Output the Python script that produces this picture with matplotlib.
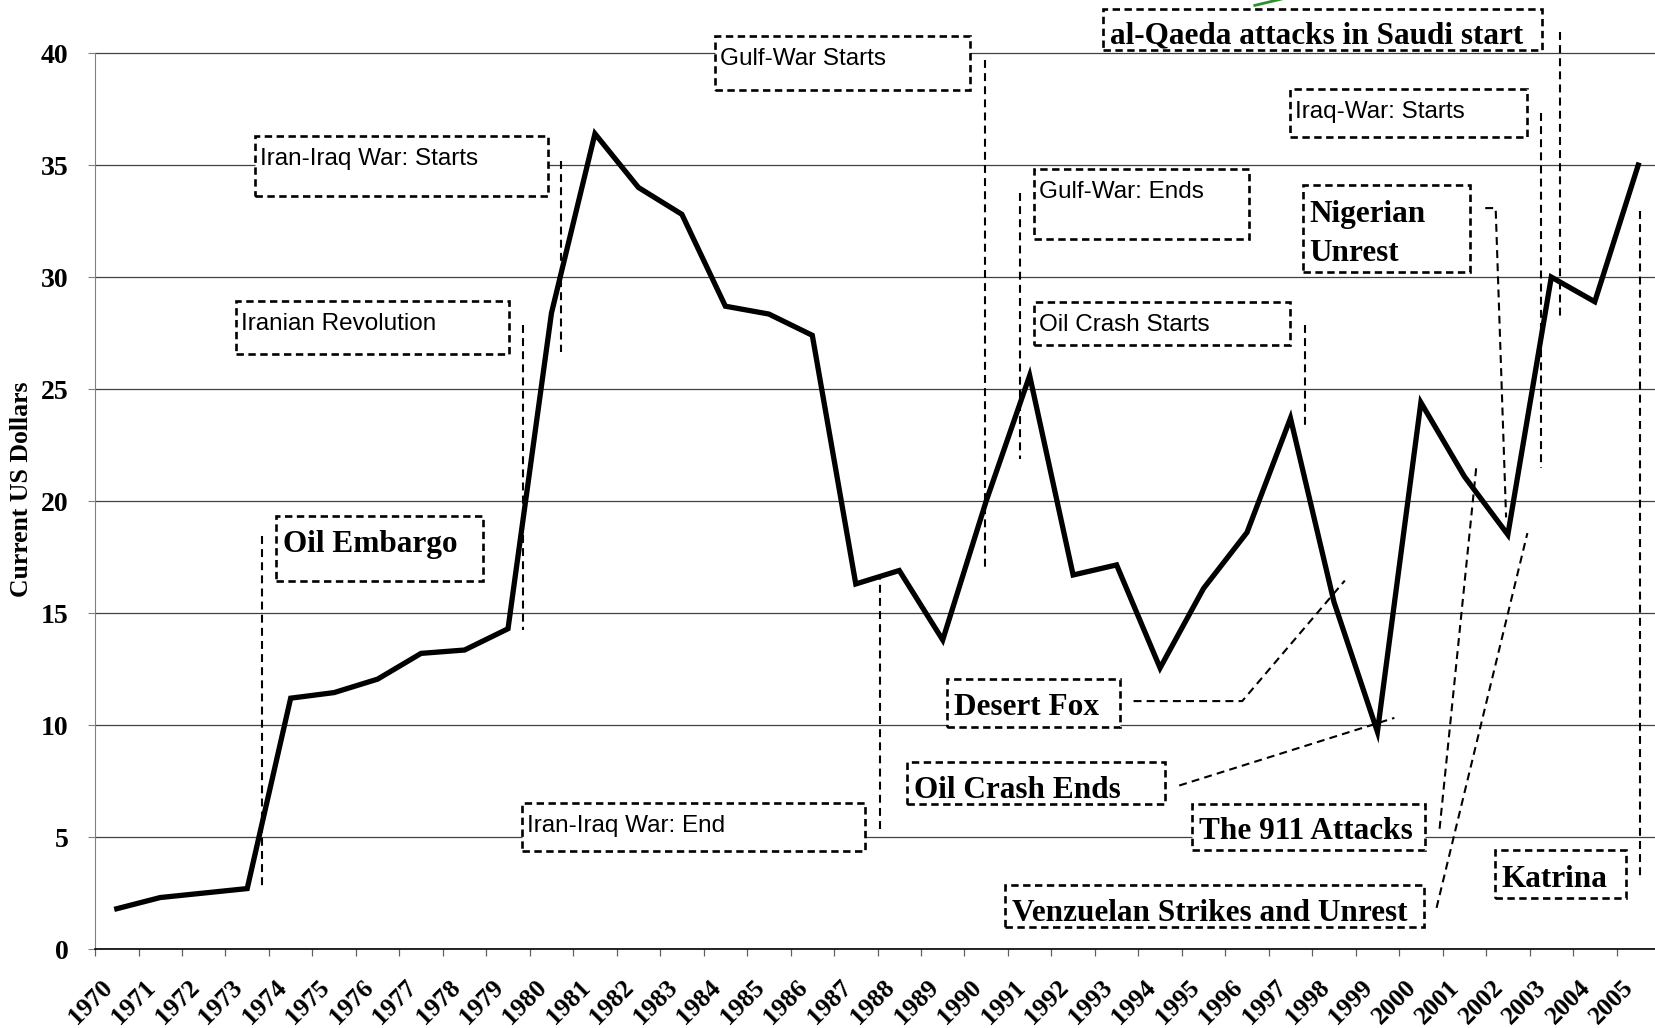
import matplotlib
matplotlib.use('Agg')
import matplotlib.pyplot as plt
from matplotlib.patches import Rectangle
from matplotlib.transforms import ScaledTranslation

# Oil price, current US dollars per barrel
years = list(range(1970, 2006))
prices = [1.8, 2.3, 2.5, 2.7, 11.2, 11.45, 12.05, 13.2, 13.35, 14.3,
          28.4, 36.4, 34.0, 32.8, 28.7, 28.35, 27.4, 16.3, 16.9, 13.8,
          20.0, 25.6, 16.7, 17.15, 12.55, 16.1, 18.6, 23.7, 15.5, 9.7,
          24.4, 21.1, 18.5, 30.0, 28.9, 35.0]

# event labels: text, box (x0, y0, x1, y1) in (year index, dollars), leader line
sans_events = [
    ("Iran-Iraq War: Starts", (3.18, 33.6, 9.91, 36.29), [(10.23, 35.2), (10.23, 26.67)]),
    ("Iranian Revolution", (2.74, 26.58, 9.03, 28.93), [(9.35, 27.85), (9.35, 14.23)]),
    ("Gulf-War Starts", (13.77, 38.36, 19.63, 40.76), [(19.97, 39.68), (19.97, 16.92)]),
    ("Gulf-War: Ends", (21.11, 31.72, 26.04, 34.83), [(20.77, 33.74), (20.77, 21.87)]),
    ("Oil Crash Starts", (21.11, 26.96, 26.99, 28.89), [(27.33, 27.85), (27.33, 23.28)]),
    ("Iraq-War: Starts", (26.99, 36.24, 32.43, 38.41), [(32.77, 37.32), (32.77, 21.49)]),
    ("Iran-Iraq War: End", (9.33, 4.38, 17.22, 6.5), [(17.56, 5.37), (17.56, 16.54)]),
]
# serif ones also carry the height of the text centre
serif_events = [
    ("al-Qaeda attacks in Saudi start", (22.69, 40.15, 32.79, 41.99), 40.76,
     [(33.2, 40.95), (33.2, 28.23)]),
    ("Nigerian\nUnrest", (27.28, 30.21, 31.13, 34.12), 31.93,
     [(31.48, 33.08), (31.72, 33.08), (31.96, 19.27)]),
    ("Oil Embargo", (3.67, 16.45, 8.43, 19.32), 18.05,
     [(3.33, 18.43), (3.33, 2.78)]),
    ("Desert Fox", (19.09, 9.9, 23.07, 12.06), 10.79,
     [(23.39, 11.07), (25.89, 11.07), (28.25, 16.45)]),
    ("Oil Crash Ends", (18.17, 6.46, 24.12, 8.34), 7.07,
     [(24.44, 7.3), (29.39, 10.32)]),
    ("The 911 Attacks", (24.73, 4.43, 30.09, 6.46), 5.23,
     [(30.43, 5.37), (31.28, 21.63)]),
    ("Venzuelan Strikes and Unrest", (20.43, 0.99, 30.07, 2.87), 1.6,
     [(30.36, 1.84), (32.45, 18.57)]),
    ("Katrina", (31.7, 2.26, 34.71, 4.43), 3.11,
     [(35.05, 32.94), (35.05, 3.25)]),
]

SERIF = 'Liberation Serif'
SANS = 'Liberation Sans'

fig = plt.figure(figsize=(16.56, 10.28), dpi=100)
ax = fig.add_axes([0.0574, 0.0768, 0.945, 0.9232])

x = list(range(len(years)))
ax.plot(x, prices, color='black', lw=3.8, zorder=5, solid_joinstyle='miter')

ax.set_xlim(-0.5, len(years) - 0.5)
ax.set_ylim(0, 42.37)


def draw_frame(box, leader):
    x0, y0, x1, y1 = box
    ax.add_patch(Rectangle((x0, y0), x1 - x0, y1 - y0, facecolor='white',
                           edgecolor='black', lw=1.9, ls=(0, (2.8, 1.7)),
                           zorder=3, clip_on=False))
    xs, ys = zip(*leader)
    ax.plot(xs, ys, color='black', lw=1.5, ls=(0, (3.8, 2.5)), zorder=3, clip_on=False)


for label, box, leader in sans_events:
    draw_frame(box, leader)
    ax.annotate(label, xy=(box[0], box[3]), xytext=(3.5, -16.5),
                textcoords='offset points', ha='left', va='center',
                fontsize=17.5, family=SANS, zorder=4)

for label, box, text_y, leader in serif_events:
    draw_frame(box, leader)
    ax.annotate(label, xy=(box[0], text_y), xytext=(5, 0),
                textcoords='offset points', ha='left', va='center',
                fontsize=22.5, family=SERIF, weight='bold', zorder=4,
                linespacing=1.45)

# stray connector poking in at the top edge
ax.plot([26.18, 27.2], [42.13, 42.6], color='#2f8f2f', lw=2, zorder=3, clip_on=False)

# axes styling
ax.set_yticks(range(0, 41, 5))
ax.yaxis.grid(True, color='#404040', lw=0.9, zorder=0)
ax.set_axisbelow(True)
for lab in ax.get_yticklabels():
    lab.set_fontfamily(SERIF)
    lab.set_fontweight('bold')
    lab.set_fontsize(20)
ax.tick_params(axis='y', length=5, width=0.8, color='#808080', pad=14)

ax.set_xticks(x)
ax.set_xticklabels([str(y) for y in years], rotation=45, ha='right', va='top',
                   family=SERIF, weight='bold', fontsize=18.5)
shift = ScaledTranslation(9 / 100, 0, fig.dpi_scale_trans)
for lab in ax.get_xticklabels():
    lab.set_transform(lab.get_transform() + shift)
ax.set_xticks([i - 0.5 for i in range(len(years) + 1)], minor=True)
ax.tick_params(axis='x', which='major', length=0, pad=19)
ax.tick_params(axis='x', which='minor', length=5, width=0.9, color='#606060', direction='out')

ax.spines['top'].set_visible(False)
ax.spines['right'].set_visible(False)
ax.spines['left'].set_bounds(0, 40)
ax.spines['left'].set_color('#808080')
ax.spines['bottom'].set_color('black')
ax.spines['bottom'].set_linewidth(1.2)

ax.set_ylabel('Current US Dollars', family=SERIF, weight='bold', fontsize=18.5)
ax.yaxis.set_label_coords(-0.0396, 0.484)

fig.savefig('out.png', dpi=100)
